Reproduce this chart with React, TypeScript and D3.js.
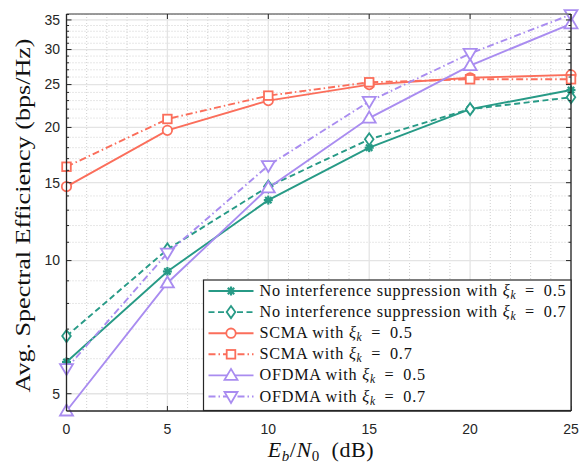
import React, { useRef, useEffect } from 'react';
import * as d3 from 'd3';

// Eb/N0 (dB)
const snr = [0, 5, 10, 15, 20, 25];

// spectral efficiency (bps/Hz)
const noSup05 = [5.9, 9.45, 13.7, 18.0, 22.0, 24.3];
const noSup07 = [6.75, 10.6, 14.7, 18.8, 22.0, 23.4];
const scma05 = [14.7, 19.7, 23.0, 25.0, 25.9, 26.3];
const scma07 = [16.3, 20.9, 23.6, 25.3, 25.7, 25.7];
const ofdma05 = [4.57, 8.9, 14.6, 21.0, 27.6, 34.3];
const ofdma07 = [5.7, 10.4, 16.4, 22.9, 29.4, 36.0];

const legendNames = [
  'No interference suppression with',
  'No interference suppression with',
  'SCMA with',
  'SCMA with',
  'OFDMA with',
  'OFDMA with',
];
const legendXi = ['0.5', '0.7', '0.5', '0.7', '0.5', '0.7'];

const xTicks = [0, 5, 10, 15, 20, 25];
const yTicks = [5, 10, 15, 20, 25, 30, 35];

const TEAL = '#279a86';
const RED = '#fb6e5b';
const PURPLE = '#a98cf0';

const series = [
  { values: noSup05, color: TEAL, dash: null, marker: 'asterisk' },
  { values: noSup07, color: TEAL, dash: '6,3.5', marker: 'diamond' },
  { values: scma05, color: RED, dash: null, marker: 'circle' },
  { values: scma07, color: RED, dash: '7,3,1.5,3', marker: 'square' },
  { values: ofdma05, color: PURPLE, dash: null, marker: 'triUp' },
  { values: ofdma07, color: PURPLE, dash: '7,3,1.5,3', marker: 'triDown' },
];

const SERIF = '"Liberation Serif", "Times New Roman", serif';
const SANS = '"Liberation Sans", Arial, sans-serif';

// draws one marker centred at (cx, cy)
const drawMarker = (g, type, cx, cy, color) => {
  const m = g.append('g').attr('transform', `translate(${cx},${cy})`);
  if (type === 'asterisk') {
    [0, 45, 90, 135].forEach(a => {
      m.append('line')
        .attr('x1', -4.5).attr('x2', 4.5).attr('y1', 0).attr('y2', 0)
        .attr('transform', `rotate(${a})`)
        .attr('stroke', color).attr('stroke-width', 2.2);
    });
    m.append('circle').attr('r', 2.5).attr('fill', color);
  } else if (type === 'diamond') {
    m.append('path').attr('d', 'M0,-6 L4.3,0 L0,6 L-4.3,0 Z')
      .attr('fill', 'white').attr('stroke', color).attr('stroke-width', 1.8);
  } else if (type === 'circle') {
    m.append('circle').attr('r', 4.7)
      .attr('fill', 'white').attr('stroke', color).attr('stroke-width', 1.8);
  } else if (type === 'square') {
    m.append('rect').attr('x', -4.3).attr('y', -4.3).attr('width', 8.6).attr('height', 8.6)
      .attr('fill', 'white').attr('stroke', color).attr('stroke-width', 1.8);
  } else if (type === 'triUp') {
    m.append('path').attr('d', 'M0,-6.5 L6.5,4.5 L-6.5,4.5 Z')
      .attr('fill', 'white').attr('stroke', color).attr('stroke-width', 1.8);
  } else if (type === 'triDown') {
    m.append('path').attr('d', 'M0,6.5 L6.5,-4.5 L-6.5,-4.5 Z')
      .attr('fill', 'white').attr('stroke', color).attr('stroke-width', 1.8);
  }
};

const SpectralChart = ({ width = 582, height = 464 }) => {
  const svgRef = useRef();

  useEffect(() => {
    const svg = d3.select(svgRef.current);
    svg.selectAll('*').remove();

    const left = 66.5, right = 571, top = 14, bottom = 411;

    const x = d3.scaleLinear().domain([0, 25]).range([left, right]);
    const y = d3.scaleLog().domain([4.57, 36.1]).range([bottom, top]);

    svg.append('rect').attr('width', width).attr('height', height).attr('fill', 'white');

    // grid: minor dotted, then major solid
    const grid = svg.append('g');
    const minorX = d3.range(0, 26).filter(v => v % 5 !== 0);
    const minorY = d3.range(5, 37).filter(v => !yTicks.includes(v));
    grid.selectAll('.mx').data(minorX).enter().append('line')
      .attr('x1', d => x(d)).attr('x2', d => x(d)).attr('y1', top).attr('y2', bottom)
      .attr('stroke', '#cfcfcf').attr('stroke-width', 1).attr('stroke-dasharray', '1,2');
    grid.selectAll('.my').data(minorY).enter().append('line')
      .attr('x1', left).attr('x2', right).attr('y1', d => y(d)).attr('y2', d => y(d))
      .attr('stroke', '#cfcfcf').attr('stroke-width', 1).attr('stroke-dasharray', '1,2');
    grid.selectAll('.gx').data(xTicks).enter().append('line')
      .attr('x1', d => x(d)).attr('x2', d => x(d)).attr('y1', top).attr('y2', bottom)
      .attr('stroke', '#e4e4e4').attr('stroke-width', 1.3);
    grid.selectAll('.gy').data(yTicks).enter().append('line')
      .attr('x1', left).attr('x2', right).attr('y1', d => y(d)).attr('y2', d => y(d))
      .attr('stroke', '#e4e4e4').attr('stroke-width', 1.3);

    // lines
    const line = d3.line()
      .x((d, i) => x(snr[i]))
      .y(d => y(d));

    series.forEach(s => {
      svg.append('path')
        .datum(s.values)
        .attr('fill', 'none')
        .attr('stroke', s.color)
        .attr('stroke-width', 1.9)
        .attr('stroke-dasharray', s.dash)
        .attr('d', line);
    });
    series.forEach(s => {
      const g = svg.append('g');
      s.values.forEach((v, i) => drawMarker(g, s.marker, x(snr[i]), y(v), s.color));
    });

    // axes box and ticks
    const axes = svg.append('g');
    axes.append('line').attr('x1', left).attr('x2', right).attr('y1', top).attr('y2', top)
      .attr('stroke', '#7a7a7a').attr('stroke-width', 1.3);
    axes.append('line').attr('x1', right).attr('x2', right).attr('y1', top).attr('y2', bottom)
      .attr('stroke', '#262626').attr('stroke-width', 1.3);
    axes.append('line').attr('x1', left).attr('x2', right).attr('y1', bottom).attr('y2', bottom)
      .attr('stroke', '#262626').attr('stroke-width', 1.3);
    axes.append('line').attr('x1', left).attr('x2', left).attr('y1', top).attr('y2', bottom)
      .attr('stroke', '#262626').attr('stroke-width', 1.3);

    xTicks.forEach(t => {
      axes.append('line').attr('x1', x(t)).attr('x2', x(t)).attr('y1', bottom).attr('y2', bottom - 5)
        .attr('stroke', '#262626');
      axes.append('line').attr('x1', x(t)).attr('x2', x(t)).attr('y1', top).attr('y2', top + 5)
        .attr('stroke', '#262626');
      axes.append('text').attr('x', x(t)).attr('y', 434)
        .attr('text-anchor', 'middle').attr('font-family', SANS).attr('font-size', 14)
        .attr('fill', '#262626').text(t);
    });
    d3.range(5, 37).forEach(t => {
      const len = yTicks.includes(t) ? 5 : 2.5;
      axes.append('line').attr('x1', left).attr('x2', left + len).attr('y1', y(t)).attr('y2', y(t))
        .attr('stroke', '#262626');
      axes.append('line').attr('x1', right).attr('x2', right - len).attr('y1', y(t)).attr('y2', y(t))
        .attr('stroke', '#262626');
    });
    yTicks.forEach(t => {
      axes.append('text').attr('x', 60).attr('y', y(t)).attr('dy', '0.35em')
        .attr('text-anchor', 'end').attr('font-family', SANS).attr('font-size', 14)
        .attr('fill', '#262626').text(t);
    });

    // axis labels
    const xl = svg.append('text').attr('x', 321).attr('y', 457)
      .attr('text-anchor', 'middle').attr('font-family', SERIF).attr('font-size', 22).attr('fill', '#111')
      .attr('letter-spacing', 0.6);
    xl.append('tspan').attr('font-style', 'italic').text('E');
    xl.append('tspan').attr('font-style', 'italic').attr('font-size', 15).attr('dy', 4).text('b');
    xl.append('tspan').attr('dy', -4).text('/');
    xl.append('tspan').attr('font-style', 'italic').text('N');
    xl.append('tspan').attr('font-size', 15).attr('dy', 4).text('0');
    xl.append('tspan').attr('dy', -4).text('\u2002(dB)');

    svg.append('text')
      .attr('transform', 'translate(30,215.5) rotate(-90)')
      .attr('text-anchor', 'middle').attr('font-family', SERIF).attr('font-size', 21)
      .attr('fill', '#111')
      .attr('textLength', 354).attr('lengthAdjust', 'spacingAndGlyphs')
      .text('Avg. Spectral Efficiency (bps/Hz)');

    // legend
    const lg = svg.append('g');
    const lx0 = 203.5, ly0 = 280, lx1 = 571, ly1 = 410.5;
    lg.append('rect').attr('x', lx0).attr('y', ly0).attr('width', lx1 - lx0).attr('height', ly1 - ly0)
      .attr('fill', 'white').attr('stroke', '#262626').attr('stroke-width', 1.2);
    series.forEach((s, i) => {
      const cy = 291 + i * 21.1;
      lg.append('line').attr('x1', 208.5).attr('x2', 253.5).attr('y1', cy).attr('y2', cy)
        .attr('stroke', s.color).attr('stroke-width', 1.9).attr('stroke-dasharray', s.dash);
      drawMarker(lg, s.marker, 231, cy, s.color);
      const t = lg.append('text').attr('x', 259.5).attr('y', cy + 5)
        .attr('font-family', SERIF).attr('font-size', 16.2).attr('fill', '#111')
        .attr('letter-spacing', 0.75);
      t.append('tspan').text(legendNames[i] + ' ');
      t.append('tspan').attr('font-style', 'italic').text('\u03BE');
      t.append('tspan').attr('font-style', 'italic').attr('font-size', 11.5).attr('dy', 3).text('k');
      t.append('tspan').attr('dy', -3).text('\u2002=\u2002' + legendXi[i]);
    });
  }, [width, height]);

  return (
    <svg ref={svgRef} width={width} height={height}
      style={{ position: 'absolute', left: 0, top: 0, display: 'block' }} />
  );
};

export default function App() {
  return <SpectralChart />;
}
